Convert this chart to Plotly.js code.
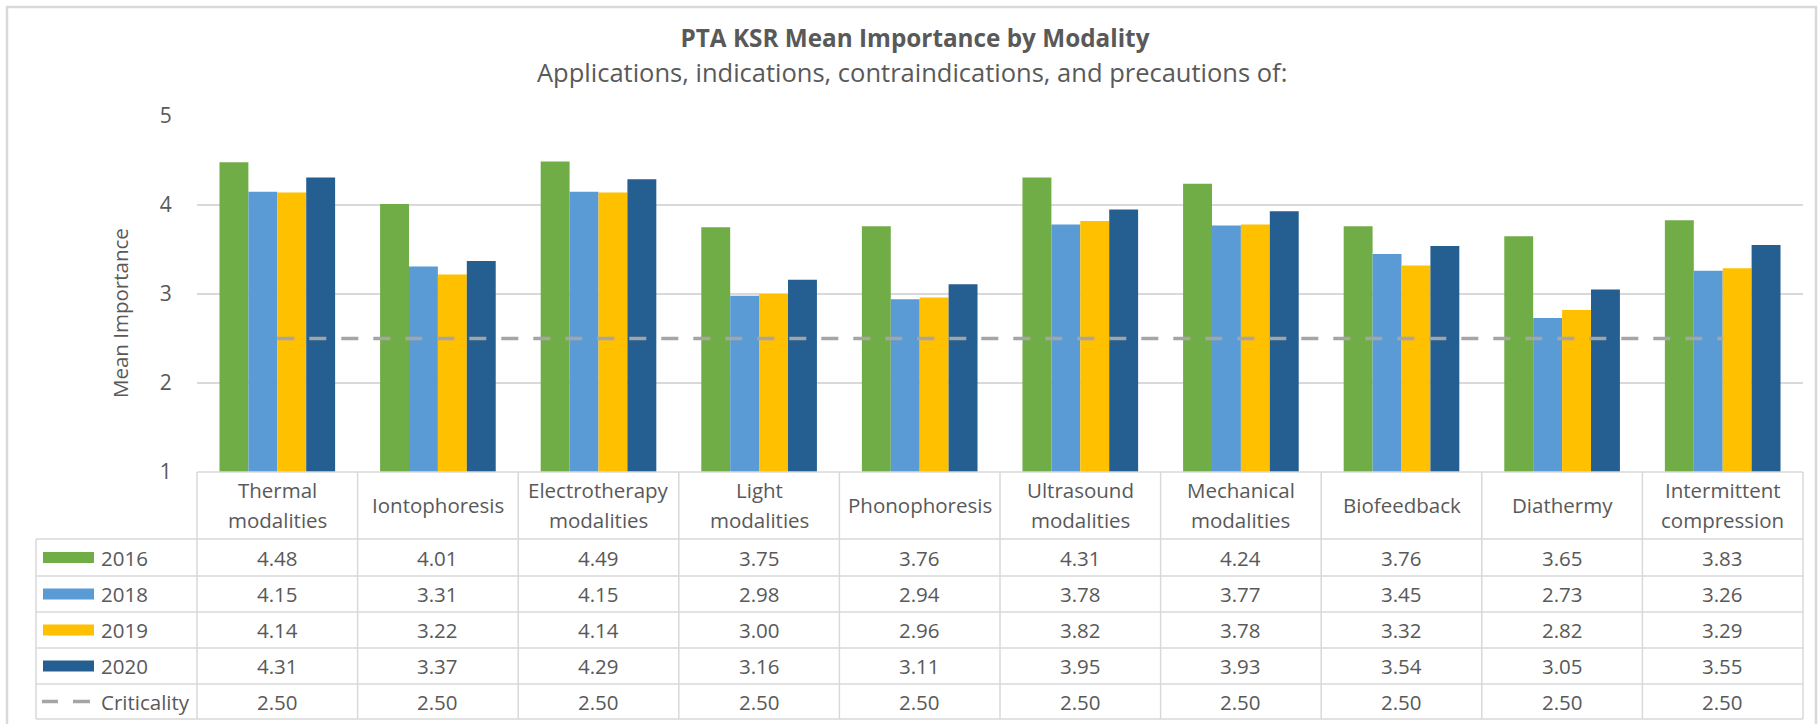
<!DOCTYPE html>
<html><head><meta charset="utf-8">
<script src="https://cdn.plot.ly/plotly-3.0.1.min.js"></script>
<style>html,body{margin:0;padding:0;background:#fff;} #chart{width:1820px;height:724px;}</style>
</head><body><div id="chart"></div>
<script>
// ---- data ----
const categories = ["Thermal<br>modalities","Iontophoresis","Electrotherapy<br>modalities","Light<br>modalities","Phonophoresis","Ultrasound<br>modalities","Mechanical<br>modalities","Biofeedback","Diathermy","Intermittent<br>compression"];
const seriesNames = ["2016","2018","2019","2020"];
const values2016 = [4.48,4.01,4.49,3.75,3.76,4.31,4.24,3.76,3.65,3.83];
const values2018 = [4.15,3.31,4.15,2.98,2.94,3.78,3.77,3.45,2.73,3.26];
const values2019 = [4.14,3.22,4.14,3.00,2.96,3.82,3.78,3.32,2.82,3.29];
const values2020 = [4.31,3.37,4.29,3.16,3.11,3.95,3.93,3.54,3.05,3.55];
const criticalityName = "Criticality";
const criticality = [2.50,2.50,2.50,2.50,2.50,2.50,2.50,2.50,2.50,2.50];
const yTicks = [1,2,3,4,5];
const titleText = "PTA KSR Mean Importance by Modality";
const subtitleText = "Applications, indications, contraindications, and precautions of:";
const yTitle = "Mean Importance";

// ---- styling ----
const colors = ["#70AD47","#5B9BD5","#FFC000","#255E91"];
const critColor = "#A5A5A5";
const textColor = "#595959";
const lineColor = "#D9D9D9";
const FONT = "Open Sans, sans-serif";

const W = 1820, H = 724;
const PL = 197, PR = 1803, PT = 116, PB = 472;
const px2x = px => (px - PL) / (PR - PL);
const py2y = py => (PB - py) / (PB - PT);

const allSeries = [values2016, values2018, values2019, values2020];
const traces = allSeries.map((vals, i) => ({
  type: "bar", name: seriesNames[i], x: categories, y: vals,
  marker: {color: colors[i], line: {width: 0}}, hoverinfo: "x+y+name"
}));
traces.push({
  type: "scatter", mode: "lines", name: criticalityName, x: categories, y: criticality,
  line: {color: critColor, width: 3.5, dash: "17px,15px"}
});

const shapes = [];
const annotations = [];
const nCat = categories.length;
const colW = (PR - PL) / nCat;
const rowEdges = [539, 576, 612, 648, 684, 719];
const legendLeft = 36;

// outer border
shapes.push({type:"rect", xref:"paper", yref:"paper", x0:px2x(7), x1:px2x(1816), y0:py2y(740), y1:py2y(7),
  line:{color:lineColor, width:2.5}, fillcolor:"rgba(0,0,0,0)", layer:"below"});

// table horizontal lines
shapes.push({type:"line", xref:"paper", yref:"paper", x0:0, x1:1, y0:py2y(PB), y1:py2y(PB), line:{color:lineColor, width:1.5}});
rowEdges.forEach(r => shapes.push({type:"line", xref:"paper", yref:"paper", x0:px2x(legendLeft), x1:1, y0:py2y(r), y1:py2y(r), line:{color:lineColor, width:1.5}}));
// vertical lines
shapes.push({type:"line", xref:"paper", yref:"paper", x0:px2x(legendLeft), x1:px2x(legendLeft), y0:py2y(rowEdges[0]), y1:py2y(rowEdges[rowEdges.length-1]), line:{color:lineColor, width:1.5}});
for (let k = 0; k <= nCat; k++) {
  const xx = px2x(PL + k*colW);
  shapes.push({type:"line", xref:"paper", yref:"paper", x0:xx, x1:xx, y0:py2y(PB), y1:py2y(rowEdges[rowEdges.length-1]), line:{color:lineColor, width:1.5}});
}

// header labels
categories.forEach((c, i) => {
  const lines = c.split("<br>");
  const centers = lines.length === 2 ? [490, 520] : [505];
  lines.forEach((ln, j) => annotations.push({
    xref:"x", yref:"paper", x:i, y:py2y(centers[j]), text:ln, showarrow:false,
    xanchor:"center", yanchor:"middle", font:{family:FONT, size:20.5, color:textColor}
  }));
});

// value rows
const rowSeries = allSeries.concat([criticality]);
const rowNames = seriesNames.concat([criticalityName]);
rowSeries.forEach((vals, r) => {
  const cy = (rowEdges[r] + rowEdges[r+1]) / 2;
  vals.forEach((v, i) => annotations.push({
    xref:"x", yref:"paper", x:i, y:py2y(cy), text:v.toFixed(2), showarrow:false,
    xanchor:"center", yanchor:"middle", font:{family:FONT, size:20.5, color:textColor}
  }));
  annotations.push({
    xref:"paper", yref:"paper", x:px2x(99), y:py2y(cy), text:rowNames[r], showarrow:false,
    xanchor:"left", yanchor:"middle", font:{family:FONT, size:20.5, color:textColor}
  });
  if (r < 4) {
    shapes.push({type:"rect", xref:"paper", yref:"paper", x0:px2x(43), x1:px2x(94), y0:py2y(cy-5.5), y1:py2y(cy+5.5),
      fillcolor:colors[r], line:{width:0}});
  } else {
    [[42,58],[73,90]].forEach(d => shapes.push({type:"line", xref:"paper", yref:"paper", x0:px2x(d[0]), x1:px2x(d[1]),
      y0:py2y(cy), y1:py2y(cy), line:{color:critColor, width:3.5}}));
  }
});

// subtitle & y title
annotations.push({xref:"paper", yref:"paper", x:px2x(912), y:py2y(72), text:subtitleText, showarrow:false,
  xanchor:"center", yanchor:"middle", font:{family:FONT, size:25.5, color:textColor}});
annotations.push({xref:"paper", yref:"paper", x:px2x(120), y:py2y(313), text:yTitle, showarrow:false, textangle:-90,
  xanchor:"center", yanchor:"middle", font:{family:FONT, size:20.5, color:textColor}});

const layout = {
  width: W, height: H,
  margin: {l: PL, r: W - PR, t: PT, b: H - PB, pad: 0},
  paper_bgcolor: "#fff", plot_bgcolor: "#fff",
  title: {text: "<b>" + titleText + "</b>", xref:"container", yref:"container", x: 915/W, y: 1 - 38/H,
    xanchor:"center", yanchor:"middle", font:{family:FONT, size:24.3, color:textColor}},
  showlegend: false,
  barmode: "group", bargap: 0.28, bargroupgap: 0,
  xaxis: {type:"category", showticklabels:false, showgrid:false, zeroline:false, showline:false, ticks:"", fixedrange:true},
  yaxis: {range:[1,5], tickvals:yTicks, showgrid:true, gridcolor:lineColor, gridwidth:1.5, zeroline:false, showline:false,
    ticks:"outside", ticklen:20, tickcolor:"rgba(0,0,0,0)", tickfont:{family:FONT, size:21, color:textColor}, fixedrange:true},
  shapes: shapes, annotations: annotations,
  font: {family: FONT, color: textColor}
};

Plotly.newPlot("chart", traces, layout, {displayModeBar:false, staticPlot:true});
</script></body></html>
